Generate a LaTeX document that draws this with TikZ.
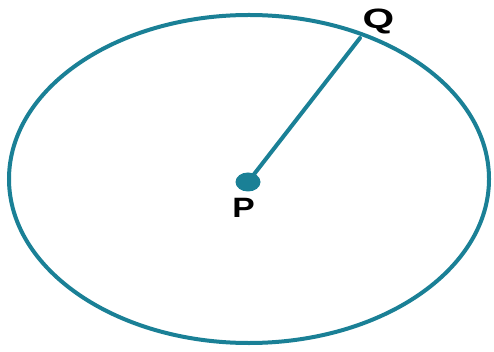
\documentclass[tikz,border=0pt]{standalone}
\usepackage{fontspec}
\setmainfont{Liberation Sans}
\definecolor{teal1}{HTML}{1A8096}
\begin{document}
\begin{tikzpicture}[x=1pt,y=-1pt,
  curve/.style={draw=teal1,line width=4pt},
  lbl/.style={font=\bfseries\fontsize{28}{28}\selectfont,inner sep=0pt,text=black}]
\useasboundingbox (0,0) rectangle (494,352);
\fill[white] (0,0) rectangle (494,352);
\draw[curve] (249,179) ellipse [x radius=240,y radius=164];
\coordinate (Pc) at (248,182);
\coordinate (Qc) at (360,38);
\draw[curve,line cap=round] (Pc) -- (Qc);
\fill[teal1] (Pc) ellipse [x radius=12.5,y radius=9.5];
\node[lbl,xscale=1.2] (P) at (243.5,208) {P};
\node[lbl,xscale=1.45] (Q) at (378.5,21) {Q};
\end{tikzpicture}
\end{document}
